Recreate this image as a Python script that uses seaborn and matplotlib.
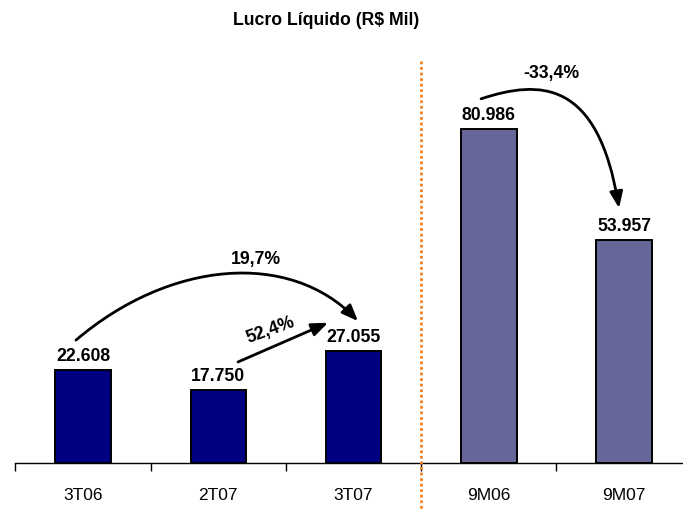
import matplotlib
matplotlib.use("Agg")
import matplotlib.pyplot as plt
import seaborn as sns
import pandas as pd
from matplotlib.patches import FancyArrowPatch
from matplotlib.path import Path

# ---- data ----
categories = ["3T06", "2T07", "3T07", "9M06", "9M07"]
values = [22.608, 17.750, 27.055, 80.986, 53.957]
value_labels = ["22.608", "17.750", "27.055", "80.986", "53.957"]
bar_colors = ["#000080", "#000080", "#000080", "#666699", "#666699"]
title = "Lucro Líquido (R$ Mil)"
pct_labels = ["19,7%", "52,4%", "-33,4%"]

sns.set_theme(style="white")
plt.rcParams['font.family'] = ['Liberation Sans', 'DejaVu Sans']
plt.rcParams['text.color'] = 'black'
plt.rcParams['xtick.color'] = 'black'

df = pd.DataFrame({"cat": categories, "val": values})

fig = plt.figure(figsize=(6.83, 5.10), dpi=100)
ax = fig.add_axes([0, 46/510, 1, 464/510])

sns.barplot(data=df, x="cat", y="val", hue="cat", palette=bar_colors,
            width=0.41, edgecolor="black", linewidth=1.4, legend=False,
            saturation=1, ax=ax)

ax.set_xlim(-0.614, 4.436)
ax.set_ylim(0, 112.5)

# spines / ticks
for s in ["top", "right", "left"]:
    ax.spines[s].set_visible(False)
ax.spines["bottom"].set_color("black")
ax.spines["bottom"].set_linewidth(1.0)
ax.spines["bottom"].set_bounds(-0.5, 4.436)
ax.set_yticks([])
ax.set_xlabel("")
ax.set_ylabel("")
ax.set_xticks([i - 0.5 for i in range(len(categories))])
ax.set_xticklabels([])
ax.tick_params(axis="x", which="major", length=6, width=1.0, color="black",
               direction="out", bottom=True)
ax.set_xticks(range(len(categories)), minor=True)
ax.set_xticklabels(categories, minor=True, fontsize=12.5, color="black")
ax.tick_params(axis="x", which="minor", length=0, pad=17)

# value labels
for i, (v, lab) in enumerate(zip(values, value_labels)):
    ax.annotate(lab, (i, v), xytext=(0, 4.3), textcoords="offset points",
                ha="center", va="bottom", fontsize=12.7, fontweight="bold",
                color="black")

# orange dotted separator
ax.plot([2.5, 2.5], [97.5, -11.2], color="#F5821F", lw=2.0,
        linestyle=(0, (1, 1)), clip_on=False, zorder=5)

# curved arrows
arrow_kw = dict(arrowstyle="-|>,head_length=0.7,head_width=0.28",
                mutation_scale=14, color="black", lw=2.0, zorder=6)

p1 = Path([(-0.052, 29.8), (0.643, 49.2), (1.530, 51.6), (2.033, 34.4)],
          [Path.MOVETO, Path.CURVE4, Path.CURVE4, Path.CURVE4])
ax.add_patch(FancyArrowPatch(path=p1, **arrow_kw))

p2 = Path([(1.146, 24.5), (1.811, 34.0)], [Path.MOVETO, Path.LINETO])
ax.add_patch(FancyArrowPatch(path=p2, **arrow_kw))

p3 = Path([(2.943, 88.3), (3.379, 93.0), (3.808, 93.0), (3.963, 61.8)],
          [Path.MOVETO, Path.CURVE4, Path.CURVE4, Path.CURVE4])
ax.add_patch(FancyArrowPatch(path=p3, **arrow_kw))

ax.text(1.275, 49.6, pct_labels[0], ha="center", va="center",
        fontsize=12.7, fontweight="bold", color="black")
ax.text(1.39, 32.4, pct_labels[1], ha="center", va="center",
        fontsize=12.7, fontweight="bold", rotation=20, color="black")
ax.text(3.464, 94.8, pct_labels[2], ha="center", va="center",
        fontsize=12.7, fontweight="bold", color="black")

fig.text(326/683, 1 - 20.5/510, title, ha="center", va="center",
         fontsize=12.7, fontweight="bold", color="black")

fig.savefig("out.png", dpi=100)
